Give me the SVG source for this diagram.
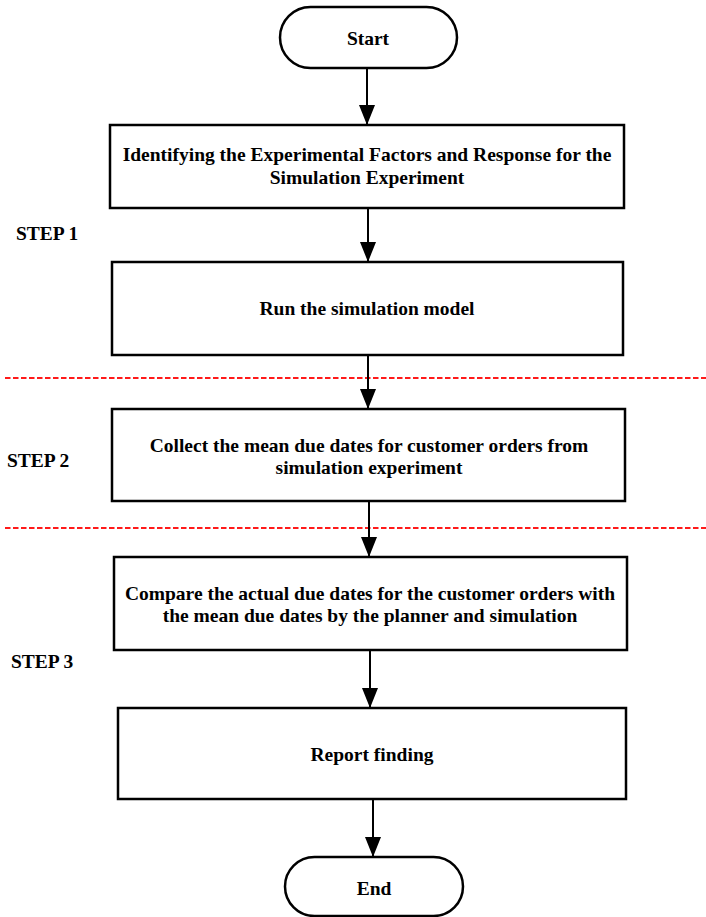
<svg xmlns="http://www.w3.org/2000/svg" width="706" height="917" viewBox="0 0 706 917">
<defs>
<marker id="ah" markerWidth="20" markerHeight="16" refX="20" refY="8" viewBox="0 0 20 16" orient="auto" markerUnits="userSpaceOnUse">
<path d="M0,0 L20,8 L0,16 Z" fill="#000"/>
</marker>
<style>
.box{fill:#fff;stroke:#000;stroke-width:2.5}
.t{font-family:"Liberation Serif","Times New Roman",serif;font-weight:bold;font-size:19.5px;fill:#000;text-anchor:middle}
.step{font-family:"Liberation Serif","Times New Roman",serif;font-weight:bold;font-size:19.5px;fill:#000}
.c{stroke:#000;stroke-width:2;fill:none;marker-end:url(#ah)}
.dash{stroke:#ff1a1a;stroke-width:2;stroke-dasharray:5.5 2.5}
</style>
</defs>
<rect width="706" height="917" fill="#fff"/>
<g id="dividers">
<line class="dash" x1="5" y1="378" x2="706" y2="378"/>
<line class="dash" x1="5" y1="528" x2="706" y2="528"/>
</g>
<g id="labels">
<text class="step" x="16" y="240">STEP 1</text>
<text class="step" x="7" y="467">STEP 2</text>
<text class="step" x="11" y="668">STEP 3</text>
</g>
<g id="start">
<rect class="box" x="280" y="7" width="177" height="61" rx="30.5"/>
<text class="t" x="368" y="45">Start</text>
</g>
<g id="identify">
<rect class="box" x="110" y="125" width="514" height="83"/>
<text class="t" x="367" y="161">Identifying the Experimental Factors and Response for the</text>
<text class="t" x="367" y="184">Simulation Experiment</text>
</g>
<g id="run">
<rect class="box" x="112" y="262" width="511" height="93"/>
<text class="t" x="367" y="315">Run the simulation model</text>
</g>
<g id="collect">
<rect class="box" x="112" y="409" width="513" height="92"/>
<text class="t" x="369" y="452">Collect the mean due dates for customer orders from</text>
<text class="t" x="369" y="474">simulation experiment</text>
</g>
<g id="compare">
<rect class="box" x="114" y="557" width="513" height="93"/>
<text class="t" x="370" y="600">Compare the actual due dates for the customer orders with</text>
<text class="t" x="370" y="622">the mean due dates by the planner and simulation</text>
</g>
<g id="report">
<rect class="box" x="118" y="708" width="508" height="91"/>
<text class="t" x="372" y="761">Report finding</text>
</g>
<g id="end">
<rect class="box" x="285" y="857" width="178" height="59" rx="29.5"/>
<text class="t" x="374" y="895">End</text>
</g>
<g id="connectors">
<line class="c" x1="367" y1="68" x2="367" y2="125"/>
<line class="c" x1="368" y1="208" x2="368" y2="262"/>
<line class="c" x1="368" y1="355" x2="368" y2="409"/>
<line class="c" x1="369" y1="501" x2="369" y2="557"/>
<line class="c" x1="370" y1="650" x2="370" y2="708"/>
<line class="c" x1="373" y1="799" x2="373" y2="857"/>
</g>
</svg>
